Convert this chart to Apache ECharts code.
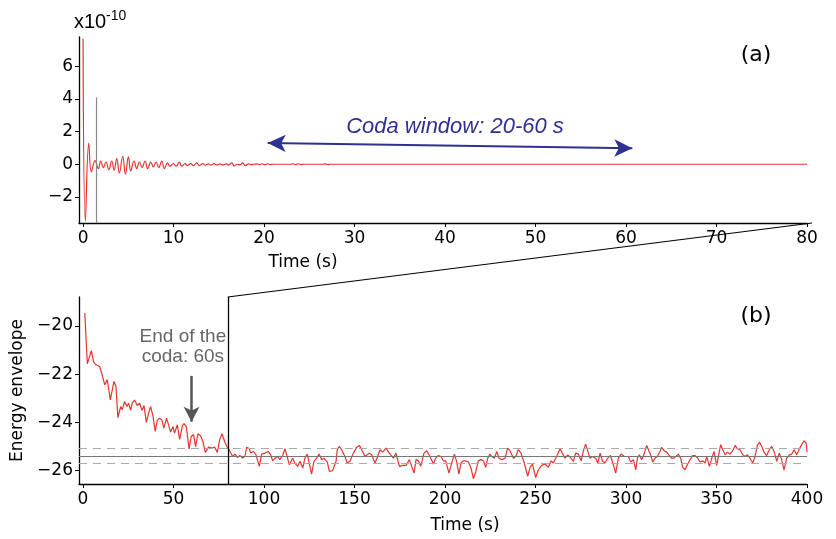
<!DOCTYPE html>
<html>
<head>
<meta charset="utf-8">
<script src="https://cdn.jsdelivr.net/npm/echarts@6/dist/echarts.min.js"></script>
<style>
html,body{margin:0;padding:0;background:#fff;}
#chart{width:836px;height:539px;}
</style>
</head>
<body>
<div id="chart"></div>
<script>
// ---- Data ----
// (a) seismogram, amplitude in units of 1e-10, [time s, amplitude]
const waveform = [
  [0,7.7],[0.26,-3.47],[0.63,1.30],[0.92,-0.47],[1.33,0.22],[1.69,-0.27],[1.95,0.20],[2.25,-0.20],
  [2.54,0.14],[2.84,-0.33],[3.17,0.20],[3.43,-0.37],[3.72,0.35],[4.01,-0.53],[4.38,0.49],[4.68,-0.61],
  [5.01,0.45],[5.27,-0.41],[5.63,0.20],[5.93,-0.27],[6.22,0.14],[6.52,-0.20],[6.85,0.20],[7.15,-0.27],
  [7.48,0.14],[7.77,-0.16],[8.07,0.14],[8.36,-0.20],[8.69,0.20],[8.99,-0.27],[9.32,0.08],[9.61,-0.12],
  [9.98,0.04],[10.28,-0.12],[10.64,0.14],[10.90,-0.12],[11.27,0.04],[11.53,-0.08],[11.90,0.04],[12.19,-0.08],
  [12.56,0.08],[12.85,-0.08],[13.22,0.04],[13.52,-0.06],[13.85,0.02],[14.11,-0.06],[14.47,0.04],[14.77,-0.04],
  [15.14,0.02],[15.43,-0.04],[15.80,0.02],[16.09,-0.04],[16.43,0.08],[16.72,-0.10],[17.05,0.0],[17.35,-0.04],
  [17.64,0.08],[17.94,-0.08],[18.27,0.02],[18.53,-0.02],[18.89,0.0],[19.2,0.02],[19.5,-0.02],[19.8,0.03],
  [20.1,-0.03],[20.4,0.03],[20.7,-0.02],[21.0,0.0],[22.9,0.0],[23.2,0.03],[23.5,-0.03],[23.8,0.03],
  [24.1,-0.02],[24.4,0.0],[26.5,0.0],[26.8,0.02],[27.1,-0.02],[27.4,0.0],[80,0.0]
];
// (b) energy envelope, [time s, log energy]
const envelope = [
  [1.0,-19.46],[2.4,-21.57],[4.6,-21.02],[5.9,-21.5],[7.0,-21.6],[9.2,-21.68],[10.5,-22.0],[12.0,-22.44],
  [13.4,-22.23],[15.1,-23.06],[17.1,-22.3],[18.2,-22.5],[19.3,-23.8],[20.8,-23.34],[21.7,-23.47],[23.0,-23.13],
  [24.3,-23.34],[25.2,-23.2],[26.3,-23.5],[27.2,-23.2],[28.5,-23.07],[30.0,-23.3],[31.3,-23.2],[32.6,-23.5],
  [33.7,-23.3],[35.0,-24.0],[36.3,-23.6],[37.4,-23.34],[38.7,-23.75],[39.9,-24.37],[41.0,-23.92],[42.3,-23.82],
  [43.6,-23.9],[44.7,-24.23],[46.2,-23.82],[47.3,-23.9],[48.4,-24.4],[49.7,-24.17],[50.6,-24.44],[52.1,-24.1],
  [53.4,-24.7],[54.9,-24.14],[55.8,-24.05],[57.1,-24.17],[58.6,-25.1],[59.8,-24.58],[61.1,-24.5],[62.2,-25.0],
  [63.5,-24.47],[65.0,-24.55],[66.3,-24.8],[67.6,-25.24],[69.4,-25.02],[71.3,-25.06],[72.7,-25.02],[74.2,-25.24],
  [75.5,-24.72],[76.8,-24.47],[78.3,-24.8],[79.7,-25.02],
  [81.2,-25.20],[82.7,-25.41],[84.0,-25.31],[85.3,-25.45],[86.7,-25.37],[88.2,-25.47],[89.5,-25.41],[90.4,-25.03],
  [91.9,-25.09],[92.6,-25.27],[94.1,-25.20],[95.6,-25.34],[97.4,-25.82],[98.7,-25.31],[100.5,-25.27],[102.4,-25.20],
  [103.7,-25.34],[104.8,-25.59],[106.1,-25.48],[107.4,-25.41],[108.8,-25.54],[110.3,-25.37],[111.6,-25.09],[112.5,-25.03],
  [114.0,-25.75],[115.8,-25.48],[117.1,-25.68],[118.6,-25.82],[119.9,-25.61],[121.4,-25.89],[122.6,-25.48],[123.9,-25.31],
  [125.0,-25.68],[126.3,-26.14],[127.6,-25.61],[129.1,-25.48],[130.4,-25.31],[131.9,-25.54],[133.1,-25.48],[135.0,-25.64],
  [136.1,-26.03],[137.9,-26.00],[139.8,-25.61],[140.5,-25.13],[141.6,-24.99],[142.9,-25.13],[144.7,-25.41],[146.0,-25.68],
  [147.5,-25.61],[149.4,-25.27],[151.2,-25.03],[152.7,-24.95],[154.0,-25.13],[155.8,-25.41],[156.7,-25.48],[158.2,-25.27],
  [159.5,-25.34],[161.3,-25.68],[162.6,-25.45],[164.1,-25.13],[165.6,-25.23],[167.4,-25.06],[169.2,-25.27],[171.5,-25.48],
  [172.9,-25.27],[174.8,-25.82],[176.6,-25.78],[178.5,-25.78],[180.3,-25.54],[181.6,-25.82],[182.9,-26.10],[184.0,-25.54],
  [185.3,-25.59],[186.6,-25.82],[188.4,-25.27],[189.9,-25.17],[191.7,-25.41],[193.6,-25.72],[194.8,-25.48],[196.3,-25.37],
  [197.8,-25.41],[199.1,-25.59],[200.4,-25.59],[202.2,-26.10],[203.7,-25.68],[205.2,-25.31],[206.4,-25.61],[207.7,-26.14],
  [208.8,-25.68],[210.1,-25.59],[211.4,-25.59],[212.9,-25.64],[214.4,-25.89],[215.7,-26.33],[217.0,-26.03],[218.4,-25.59],
  [219.9,-25.54],[221.2,-25.59],[222.5,-25.86],[223.6,-25.48],[224.9,-25.31],[225.8,-25.41],[227.3,-25.48],[228.6,-25.20],
  [229.8,-25.48],[231.3,-25.54],[233.2,-25.48],[234.6,-25.06],[235.9,-25.17],[237.8,-25.48],[239.1,-25.41],[240.5,-25.13],
  [242.0,-25.27],[243.8,-25.68],[245.7,-26.23],[247.0,-25.86],[248.3,-25.72],[250.1,-26.28],[251.6,-25.96],[253.4,-25.78],
  [255.3,-25.72],[257.1,-25.86],[258.6,-25.59],[259.9,-25.68],[261.2,-25.48],[262.3,-25.41],[263.6,-25.09],[264.8,-25.27],
  [266.3,-25.48],[267.8,-25.34],[269.6,-25.48],[270.9,-25.61],[272.2,-25.27],[273.7,-25.31],[275.2,-25.59],[276.4,-25.20],
  [277.7,-24.90],[278.8,-24.95],[280.1,-25.48],[281.4,-25.41],[283.3,-25.48],[284.4,-25.68],[285.7,-25.27],[287.0,-25.61],
  [288.4,-25.68],[289.9,-25.48],[291.4,-25.37],[293.0,-25.75],[294.3,-26.10],[295.8,-25.48],[297.3,-25.31],[299.1,-25.41],
  [300.0,-25.48],[301.3,-25.41],[302.6,-25.64],[304.1,-25.54],[305.4,-25.96],[306.3,-25.48],[307.4,-25.34],[308.7,-25.54],
  [310.0,-25.31],[311.4,-24.95],[312.4,-24.99],[313.6,-25.34],[314.8,-25.64],[316.0,-25.48],[317.3,-25.41],[318.8,-25.20],
  [319.7,-25.03],[321.0,-25.17],[322.5,-25.23],[324.0,-25.37],[325.2,-25.48],[326.5,-25.48],[327.6,-25.41],[328.9,-25.31],
  [330.2,-25.48],[331.3,-25.86],[332.6,-25.96],[333.9,-25.75],[335.4,-25.54],[336.9,-25.37],[338.1,-25.37],[339.4,-25.45],
  [340.9,-25.64],[342.4,-25.59],[343.7,-25.68],[344.6,-25.41],[346.1,-25.82],[347.4,-25.48],[348.6,-25.20],[350.1,-25.78],
  [351.6,-25.20],[352.3,-24.92],[353.4,-24.99],[354.7,-25.34],[356.0,-25.23],[357.5,-25.31],[359.0,-25.17],[360.3,-24.95],
  [361.5,-25.09],[363.0,-25.13],[364.5,-25.34],[365.8,-25.41],[367.1,-25.34],[368.5,-25.48],[370.0,-25.68],[371.3,-25.41],
  [372.6,-24.95],[373.7,-24.81],[375.0,-24.99],[376.3,-25.23],[377.7,-25.37],[379.2,-25.13],[380.5,-24.99],[381.8,-25.20],
  [383.3,-25.61],[384.7,-25.27],[386.0,-25.54],[387.3,-25.96],[388.8,-25.48],[390.3,-25.34],[391.6,-25.31],[392.9,-25.13],
  [394.3,-25.34],[395.8,-25.09],[397.1,-24.92],[398.4,-24.76],[399.5,-24.85],[400.0,-25.23]
];
const topXTicks = [0,10,20,30,40,50,60,70,80];
const topYTicks = [-2,0,2,4,6];
const bottomXTicks = [0,50,100,150,200,250,300,350,400];
const bottomYTicks = [-26,-24,-22,-20];
const noiseLevel = -25.38;
const noiseBand = [-25.08, -25.68];
const markerTime = 1.44;
const codaEnd = 60;
const zoomTime = 80;

// ---- Chart ----
const RED = '#e3342f', BLUE = '#2e3192';
const tickFont = {fontFamily:'DejaVu Sans', fontSize:17, color:'#000'};
const minusFmt = v => String(v).replace('-', '\u2212');

function xAxisCfg(grid, min, max, ticks, namePad, gap){
  return {
    type:'value', gridIndex:grid, min:min, max:max,
    axisLine:{show:true, onZero:false, lineStyle:{color:'#000', width:1.3}},
    axisTick:{show:true, length:4, customValues:ticks, lineStyle:{color:'#000', width:1}},
    axisLabel:Object.assign({customValues:ticks, margin:7, formatter:minusFmt}, tickFont),
    splitLine:{show:false},
    name:'Time (s)', nameLocation:'middle', nameGap:gap,
    nameTextStyle:{fontFamily:'DejaVu Sans', fontSize:17, color:'#000', padding:namePad}
  };
}
function yAxisCfg(grid, min, max, ticks, name){
  return {
    type:'value', gridIndex:grid, min:min, max:max,
    axisLine:{show:true, onZero:false, lineStyle:{color:'#000', width:1.3}},
    axisTick:{show:true, length:4, customValues:ticks, lineStyle:{color:'#000', width:1}},
    axisLabel:Object.assign({customValues:ticks, margin:6, formatter:minusFmt}, tickFont),
    splitLine:{show:false},
    name:name, nameLocation:'middle', nameGap:50, nameRotate:90,
    nameTextStyle:{fontFamily:'DejaVu Sans', fontSize:17, color:'#000'}
  };
}

const chart = echarts.init(document.getElementById('chart'), null, {renderer:'canvas'});
const topYMin = -3.6, topYMax = 7.8, botYMin = -26.55, botYMax = -18.8;
chart.setOption({
  animation:false,
  backgroundColor:'#fff',
  grid:[
    {left:79, right:29, top:37, height:186},
    {left:79, right:29, top:297, height:187}
  ],
  xAxis:[
    xAxisCfg(0, -0.45, 80, topXTicks, [0,280,0,0], 31),
    xAxisCfg(1, -2.2, 400, bottomXTicks, [0,0,0,44], 33)
  ],
  yAxis:[
    yAxisCfg(0, topYMin, topYMax, topYTicks, ''),
    yAxisCfg(1, botYMin, botYMax, bottomYTicks, 'Energy envelope')
  ],
  series:[
    {
      type:'line', xAxisIndex:0, yAxisIndex:0, data:waveform,
      showSymbol:false, smooth:0.45, silent:true,
      lineStyle:{color:RED, width:1.2},
      markLine:{
        silent:true, animation:false, label:{show:false},
        data:[
          [{coord:[markerTime, 4.1], symbol:'none', lineStyle:{color:'#888', width:1.2, type:'solid'}},
           {coord:[markerTime, topYMin], symbol:'none'}],
          [{coord:[20.4, 1.30], symbol:'arrow', symbolSize:[13,18], lineStyle:{color:BLUE, width:2, type:'solid'}, itemStyle:{color:BLUE}},
           {coord:[60.7, 0.98], symbol:'arrow', symbolSize:[13,18], itemStyle:{color:BLUE}}]
        ]
      }
    },
    {
      type:'line', xAxisIndex:1, yAxisIndex:1, data:envelope,
      showSymbol:false, silent:true,
      lineStyle:{color:RED, width:1.2},
      markLine:{
        silent:true, animation:false, label:{show:false}, symbol:'none',
        data:[
          {yAxis:noiseLevel, lineStyle:{color:'#777', width:1.2, type:'solid'}},
          {yAxis:noiseBand[0], lineStyle:{color:'#aaa', width:1.2, type:[8,6]}},
          {yAxis:noiseBand[1], lineStyle:{color:'#aaa', width:1.2, type:[8,6]}},
          {xAxis:zoomTime, lineStyle:{color:'#000', width:1.3, type:'solid'}},
          [{coord:[codaEnd, -22.07], symbol:'none', lineStyle:{color:'#555', width:2.5, type:'solid'}},
           {coord:[codaEnd, -23.97], symbol:'arrow', symbolSize:[12,15], itemStyle:{color:'#555'}}]
        ]
      }
    }
  ]
});

// annotations anchored to data coordinates
const topPx = p => chart.convertToPixel({xAxisIndex:0, yAxisIndex:0}, p);
const botPx = p => chart.convertToPixel({xAxisIndex:1, yAxisIndex:1}, p);
const c1 = botPx([zoomTime, botYMax]);
const c2 = topPx([zoomTime + 0.55, topYMin]);
const codaTxt = topPx([41.1, 2.32]);
const endTxt = botPx([55.2, -20.85]);
const gridTopA = topPx([-0.45, topYMax]);

chart.setOption({
  graphic:[
    {type:'line', silent:true, shape:{x1:c1[0], y1:c1[1], x2:c2[0], y2:c2[1]},
     style:{stroke:'#000', lineWidth:1.1}},
    {type:'text', silent:true, x:codaTxt[0], y:codaTxt[1],
     style:{text:'Coda window: 20-60 s', fill:BLUE, font:'italic 22px "Liberation Sans"', align:'center', verticalAlign:'middle'}},
    {type:'text', silent:true, x:endTxt[0], y:endTxt[1],
     style:{text:'End of the\ncoda: 60s', fill:'#666', font:'19px "Liberation Sans"', lineHeight:20, align:'center', verticalAlign:'middle'}},
    {type:'text', silent:true, x:gridTopA[0] - 5, y:22,
     style:{text:'x10', fill:'#000', font:'20px "Liberation Sans"', align:'left', verticalAlign:'middle'}},
    {type:'text', silent:true, x:gridTopA[0] + 27, y:16,
     style:{text:'-10', fill:'#000', font:'14px "Liberation Sans"', align:'left', verticalAlign:'middle'}},
    {type:'text', silent:true, x:756, y:55,
     style:{text:'(a)', fill:'#000', font:'22px "DejaVu Sans"', align:'center', verticalAlign:'middle'}},
    {type:'text', silent:true, x:756, y:316,
     style:{text:'(b)', fill:'#000', font:'22px "DejaVu Sans"', align:'center', verticalAlign:'middle'}}
  ]
});
</script>
</body>
</html>
